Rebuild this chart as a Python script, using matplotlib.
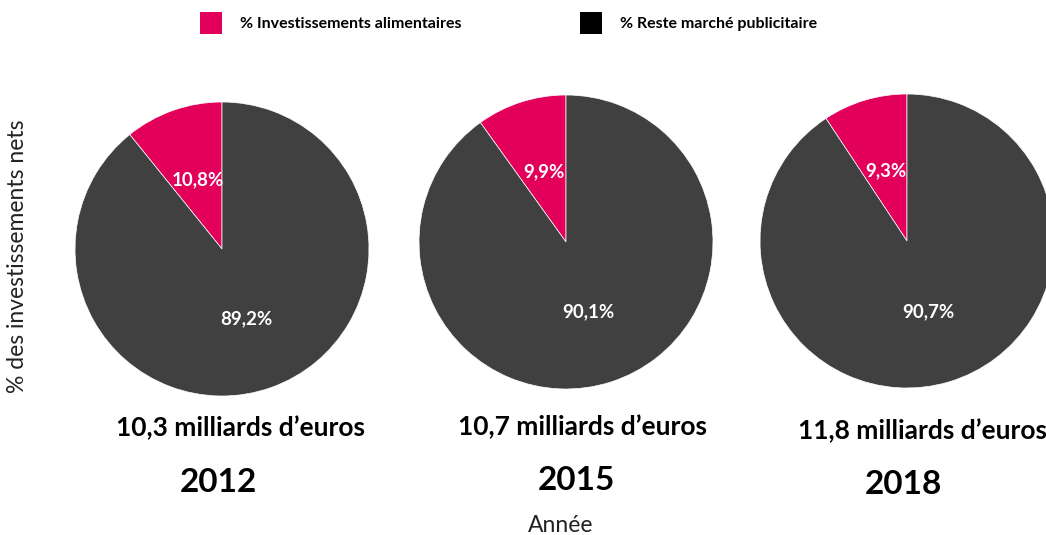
import matplotlib
matplotlib.use("Agg")
import matplotlib.pyplot as plt
from matplotlib.patches import Rectangle

years = ["2012", "2015", "2018"]
food_share = [10.8, 9.9, 9.3]
rest_share = [89.2, 90.1, 90.7]
totals = ["10,3 milliards d\u2019euros", "10,7 milliards d\u2019euros", "11,8 milliards d\u2019euros"]
series_names = ["% Investissements alimentaires", "% Reste marché publicitaire"]
colors = ["#E2005A", "#404040"]

W, H = 1046, 535
fig = plt.figure(figsize=(W / 100, H / 100), dpi=100)
FONT = "Lato"

centers = [(222, 249), (566, 242), (907, 241)]
R = 147
total_pos = [(240, 428), (583, 427), (923, 431)]
year_pos = [(218, 483), (576, 480), (903, 485)]

def fx(x):
    return x / W

def fy(y):
    return 1 - y / H

for i, (cx, cy) in enumerate(centers):
    ax = fig.add_axes([fx(cx - R), fy(cy + R), 2 * R / W, 2 * R / H])
    vals = [food_share[i], rest_share[i]]
    wedges, texts = ax.pie(vals, colors=colors, startangle=90, counterclock=True,
                           labels=[f"{v:.1f}%".replace(".", ",") for v in vals],
                           labeldistance=0.5,
                           wedgeprops=dict(linewidth=0.5, edgecolor="white"),
                           textprops=dict(color="white", fontsize=13.5, fontweight="bold",
                                          family=FONT))
    for t in texts:
        t.set_horizontalalignment("center")
    ax.set_xlim(-1, 1)
    ax.set_ylim(-1, 1)
    ax.axis("off")
    fig.text(fx(total_pos[i][0]), fy(total_pos[i][1]), totals[i], ha="center", va="center",
             fontsize=19, fontweight="bold", family=FONT, color="black")
    fig.text(fx(year_pos[i][0]), fy(year_pos[i][1]), years[i], ha="center", va="center",
             fontsize=24, fontweight="bold", family=FONT, color="black")

# legend
leg_boxes = [(200, 12), (580, 12)]
leg_colors = ["#E2005A", "#000000"]
for (bx, by), name, c in zip(leg_boxes, series_names, leg_colors):
    fig.patches.append(Rectangle((fx(bx), fy(by + 22)), 22 / W, 22 / H,
                                 transform=fig.transFigure, facecolor=c, edgecolor="none"))
    fig.text(fx(bx + 40), fy(by + 12), name, ha="left", va="center",
             fontsize=11.5, fontweight="bold", family=FONT, color="black")

fig.text(fx(18), fy(256), "% des investissements nets", rotation=90, ha="center", va="center",
         fontsize=16.5, family=FONT, color="#222222")
fig.text(fx(561), fy(525), "Année", ha="center", va="center",
         fontsize=16.5, family=FONT, color="#222222")

fig.savefig("out.png", dpi=100)
